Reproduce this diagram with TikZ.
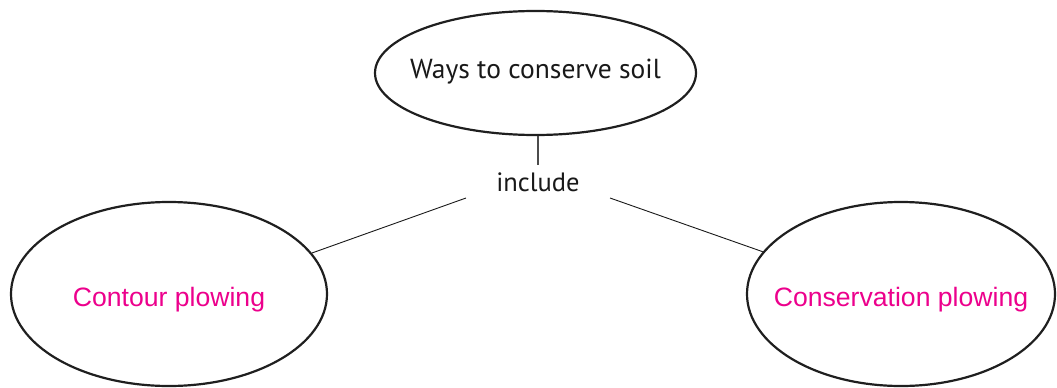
\documentclass[tikz,border=0pt]{standalone}
\usepackage{fontspec}
\setmainfont{Liberation Sans}
\newfontfamily\humanist{PT Sans}
\usetikzlibrary{shapes.geometric}
\definecolor{plowmagenta}{RGB}{236,0,140}
\begin{document}
\begin{tikzpicture}[x=1pt,y=-1pt,
  bubble/.style={draw=black!88, line width=2.2pt, ellipse, inner sep=0pt,
                 text depth=0pt},
  topic/.style={font=\humanist\fontsize{27.5}{32}\selectfont, text=black!90},
  linker/.style={font=\humanist\fontsize{26.5}{30}\selectfont, text=black!90},
  method/.style={font=\fontsize{26.6}{30}\selectfont, text=plowmagenta},
  link/.style={line width=0.9pt, black!90}]
\useasboundingbox (0,0) rectangle (1057,388);

% main concept
\node[bubble, topic, minimum width=321pt, minimum height=124pt,
      inner xsep=-20pt, text height=10.6pt] (soil) at (535.5,73)
      {Ways to conserve soil};

% linking phrase
\node[linker, anchor=base, inner sep=0pt] (inc) at (538,191.7) {include};
\coordinate (incT) at (538,165);
\coordinate (incL) at (466,198);
\coordinate (incR) at (610,198);

% the two methods
\node[bubble, method, minimum width=316pt, minimum height=184pt,
      inner xsep=-20pt, text height=25.4pt] (contour) at (169,294)
      {Contour plowing};
\node[bubble, method, minimum width=308pt, minimum height=184pt,
      inner xsep=-30pt, text height=25.4pt] (conserv) at (901,294)
      {Conservation plowing};

% connectors
\draw[link, black!70, line width=1.1pt] (incT |- soil.south) -- (incT);
\draw[link] (incL) -- (contour.16);
\draw[link] (incR) -- (conserv.163);
\end{tikzpicture}
\end{document}
